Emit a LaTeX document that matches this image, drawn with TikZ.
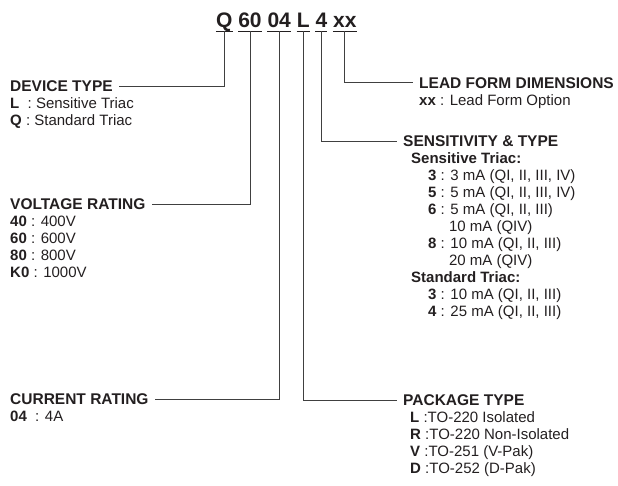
\documentclass[tikz,border=0pt]{standalone}
\usepackage{fontspec}
\setmainfont{Liberation Sans}
\usetikzlibrary{positioning}
\definecolor{ink}{HTML}{231F20}
\definecolor{wire}{HTML}{404040}

\tikzset{
  code/.style={font=\bfseries\fontsize{21}{21}\selectfont,text=ink,inner xsep=0pt,inner ysep=0pt,text height=15pt,text depth=4pt},
  head/.style={font=\bfseries\fontsize{15.5}{17}\selectfont,text=ink,inner xsep=6pt,inner ysep=0pt,text height=11pt,text depth=0pt,anchor=west},
  body/.style={font=\fontsize{15}{17}\selectfont,text=ink,inner sep=0pt,align=left},
  lead/.style={draw=wire,line width=0.8pt},
  uline/.style={draw=ink,line width=1.4pt}
}

\begin{document}
\begin{tikzpicture}[x=1pt,y=-1pt]
  \useasboundingbox (0,0) rectangle (618,485);
  % part number
  \node[code] (tQ) at (224.2,21.5) {Q};
  \node[code,right=5.5pt of tQ] (t60) {60};
  \node[code,right=5.5pt of t60] (t04) {04};
  \node[code,right=5.5pt of t04] (tL) {L};
  \node[code,right=5.5pt of tL] (t4) {4};
  \node[code,right=5.5pt of t4] (txx) {xx};
  \foreach \n in {tQ,t60,t04,tL,t4,txx}
    \draw[uline] (\n.south west) -- (\n.south east);
  % left side
  \node[head] (dev) at (4,86) {DEVICE TYPE};
  \node[body,below right=5.1pt and 6pt of dev.south west] (devlist)
    {\strut\textbf{L}\ \ : Sensitive Triac\\ \textbf{Q} : Standard Triac};
  \node[head] (volt) at (4,204) {VOLTAGE RATING};
  \node[body,below right=5.1pt and 6pt of volt.south west] (voltlist)
    {\strut\textbf{40} : 400V\\ \textbf{60} : 600V\\ \textbf{80} : 800V\\ \textbf{K0} : 1000V};
  \node[head] (curr) at (4,399) {CURRENT RATING};
  \node[body,below right=5.1pt and 6pt of curr.south west] (currlist)
    {\strut\textbf{04}\ \ : 4A};
  % right side
  \node[head] (form) at (413,82.5) {LEAD FORM DIMENSIONS};
  \node[body,below right=5.1pt and 6pt of form.south west] (formlist)
    {\strut\textbf{xx} : Lead Form Option};
  \node[head] (sens) at (397,141) {SENSITIVITY \& TYPE};
  \node[body,below right=5.1pt and 14pt of sens.south west] (senslist)
    {\strut\textbf{Sensitive Triac:}\\
     \hspace*{17pt}\textbf{3} : 3 mA (QI, II, III, IV)\\
     \hspace*{17pt}\textbf{5} : 5 mA (QI, II, III, IV)\\
     \hspace*{17pt}\textbf{6} : 5 mA (QI, II, III)\\
     \hspace*{17pt}\phantom{\textbf{6} :\ }10 mA (QIV)\\
     \hspace*{17pt}\textbf{8} : 10 mA (QI, II, III)\\
     \hspace*{17pt}\phantom{\textbf{8} :\ }20 mA (QIV)\\
     \textbf{Standard Triac:}\\
     \hspace*{17pt}\textbf{3} : 10 mA (QI, II, III)\\
     \hspace*{17pt}\textbf{4} : 25 mA (QI, II, III)};
  \node[head] (pkg) at (397,400) {PACKAGE TYPE};
  \node[body,below right=5.1pt and 13pt of pkg.south west] (pkglist)
    {\strut\textbf{L} :TO-220 Isolated\\ \textbf{R} :TO-220 Non-Isolated\\
     \textbf{V} :TO-251 (V-Pak)\\ \textbf{D} :TO-252 (D-Pak)};
  % leaders
  \draw[lead] (tQ.south) |- (dev.east);
  \draw[lead] (t60.south) |- (volt.east);
  \draw[lead] (t04.south) |- (curr.east);
  \draw[lead] (tL.south) |- (pkg.west);
  \draw[lead] (t4.south) |- (sens.west);
  \draw[lead] (txx.south) |- (form.west);
\end{tikzpicture}
\end{document}
